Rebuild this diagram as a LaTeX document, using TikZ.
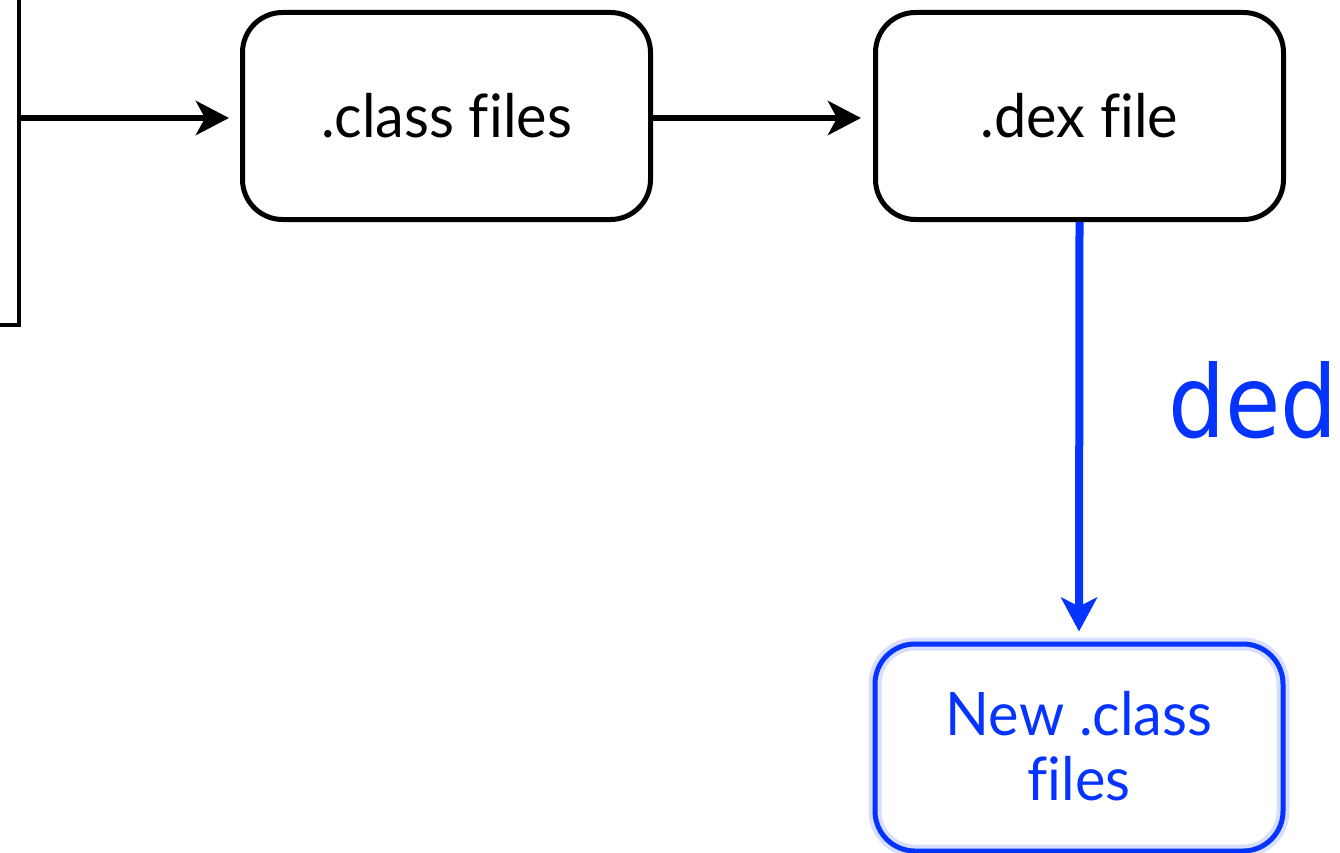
\documentclass[tikz,border=0pt]{standalone}
\usepackage{fontspec}
\setmainfont[Ligatures=NoCommon, FakeStretch=0.96]{Lato}
\newfontfamily\dedfont[FakeStretch=0.9]{DejaVu Sans}
\usetikzlibrary{arrows.meta}
\definecolor{myblue}{RGB}{5,51,255}
\tikzset{
  filebox/.style={inner sep=0pt, align=center, font=\fontsize{60}{65}\selectfont,
    draw=black, line width=5pt, rounded corners=40pt,
    minimum width=408pt, minimum height=207pt},
  bluebox/.style={filebox, draw=myblue, text=myblue},
  glowbox/.style={filebox, draw=myblue!16, line width=13pt},
  blackarrow/.style={draw=black, line width=6.5pt,
    -{Stealth[length=33pt, width=34pt, inset=9pt]}},
  bluearrow/.style={draw=myblue, line width=8pt,
    -{Stealth[length=34pt, width=36pt, inset=9pt]}},
}
\begin{document}
\begin{tikzpicture}[x=1pt,y=-1pt]
\useasboundingbox (0,0) rectangle (1340,853);
% partial box at left edge
\node[draw=black, line width=3.5pt, minimum width=400pt, minimum height=400pt, inner sep=0pt] (srcbox) at (-181,125) {};
\coordinate (srcout) at (19,118);
% boxes
\node[filebox] (classbox) at (446.5,116) {.class files};
\node[filebox] (dexbox) at (1079.5,116) {.dex file};
\node[glowbox] (newglow) at (1079,747.5) {};
\node[bluebox] (newbox) at (1079,747.5) {\raisebox{3pt}{New .class}\\\raisebox{3pt}{files}};
% arrows
\draw[blackarrow, shorten >=11pt] (srcout) -- (srcout -| classbox.west);
\draw[blackarrow, shorten >=12pt] (classbox.east |- srcout) -- (dexbox.west |- srcout);
\draw[bluearrow, shorten >=10pt] (dexbox.south) -- (newbox.north);
% label
\node[anchor=base west, inner sep=0pt, text=myblue, font=\dedfont\fontsize{100}{100}\selectfont] (ded) at (1168,437) {ded};
\end{tikzpicture}
\end{document}
